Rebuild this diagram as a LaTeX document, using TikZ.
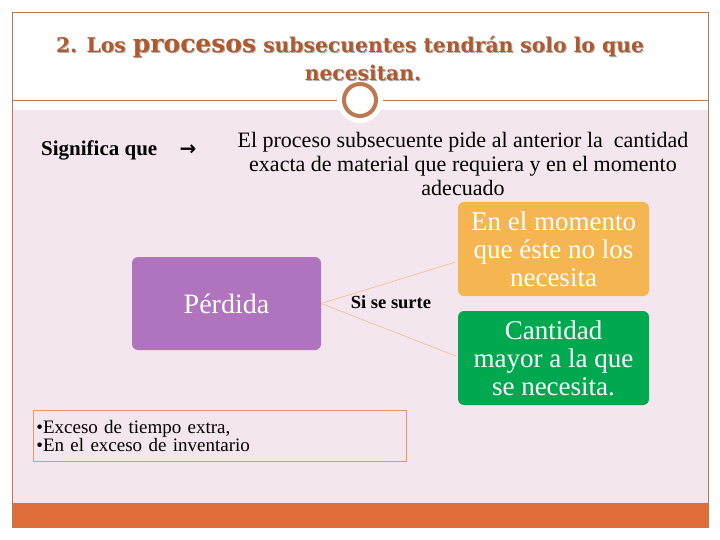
\documentclass[tikz,border=0pt]{standalone}
\usepackage{fontspec}
\setmainfont{Liberation Serif}
\newfontfamily\dejavu{DejaVu Sans}
\newfontfamily\titlefont{DejaVu Serif}
\usetikzlibrary{calc}
\definecolor{framec}{RGB}{190,120,80}
\definecolor{titlec}{RGB}{178,88,45}
\definecolor{pinkbg}{RGB}{244,230,238}
\definecolor{barc}{RGB}{222,110,56}
\definecolor{purplec}{RGB}{176,116,190}
\definecolor{orangec}{RGB}{245,182,81}
\definecolor{greenc}{RGB}{0,168,80}
\definecolor{linkc}{RGB}{245,190,130}
\definecolor{bulletc}{RGB}{232,150,100}
\tikzset{
  titletext/.style={text=titlec, font=\titlefont\fontsize{20.3}{26}\selectfont\bfseries, inner sep=0},
  titleshadow/.style={text=black!30, font=\titlefont\fontsize{20.3}{26}\selectfont\bfseries, inner sep=0},
  colbox/.style={rounded corners=6pt, text=white, align=center, inner sep=0,
    minimum width=191, minimum height=94, font=\fontsize{27}{28}\selectfont},
  link/.style={draw=linkc, line width=0.6},
}
\begin{document}
\begin{tikzpicture}[x=1pt,y=-1pt]
\useasboundingbox (0,0) rectangle (720,540);
\fill[white] (0,0) rectangle (720,540);
\fill[pinkbg] (12,110) rectangle (708,503);
\fill[barc] (12,503) rectangle (708,527);
\draw[framec, line width=0.8] (12,12) rectangle (708,527);
\draw[framec, line width=0.8] (12,100) -- (708,100);
\fill[white] (360,100) circle (23);
\draw[framec, line width=4, fill=white] (360,100) circle (16);
% title
\node[titleshadow] at (351,48) {2. Los {\fontsize{25}{26}\selectfont procesos} subsecuentes tendrán solo lo que};
\node[titletext] (t1) at (350,47) {2. Los {\fontsize{25}{26}\selectfont procesos} subsecuentes tendrán solo lo que};
\node[titleshadow] at (364,74) {necesitan.};
\node[titletext] (t2) at (363,73) {necesitan.};
% significa
\node[anchor=west, inner sep=0, font=\fontsize{21}{21}\selectfont\bfseries] (sig) at (41,150) {Significa que};
\node[inner sep=0, font=\dejavu\fontsize{20}{20}\selectfont\bfseries] (arr) at (188,150) {→};
\node[align=center, inner sep=0, font=\fontsize{22}{24}\selectfont] (desc) at (463,164)
  {El proceso subsecuente pide al anterior la\ \ cantidad\\ exacta de material que requiera y en el momento\\ adecuado};
% boxes
\node[colbox, fill=purplec, minimum width=189, minimum height=93, font=\fontsize{28}{30}\selectfont] (perd) at (226.5,303.5) {Pérdida};
\node[colbox, fill=orangec] (mom) at (553.5,249) {En el momento\\que éste no los\\necesita};
\node[colbox, fill=greenc] (cant) at (553.5,358) {Cantidad\\mayor a la que\\se necesita.};
\draw[link] (perd.east) -- ($(mom.west)+(-2,13)$);
\draw[link] (perd.east) -- ($(cant.west)+(-2,-2)$);
\node[inner sep=0, font=\fontsize{18.5}{20}\selectfont\bfseries] (surte) at (391,302) {Si se surte};
% bullets
\node[draw=bulletc, line width=0.8, fill=pinkbg, anchor=north west, minimum width=373, minimum height=51,
  text width=367, align=left, inner sep=2, font=\fontsize{19}{17.5}\selectfont] (bul) at (33,410)
  {•Exceso de tiempo extra,\\•En el exceso de inventario};
\end{tikzpicture}
\end{document}
